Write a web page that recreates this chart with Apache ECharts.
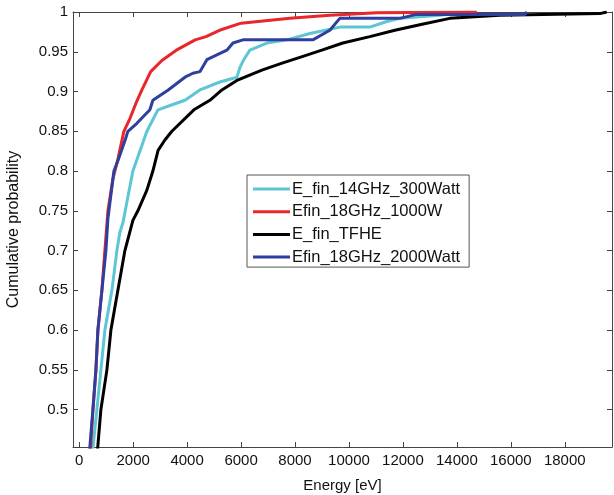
<!DOCTYPE html>
<html>
<head>
<meta charset="utf-8">
<script src="https://cdn.jsdelivr.net/npm/echarts@6/dist/echarts.min.js"></script>
<style>
html,body{margin:0;padding:0;background:#fff;}
#c{width:614px;height:495px;}
</style>
</head>
<body>
<div id="c"></div>
<script>
// Series names (legend order)
var seriesNames = ['E_fin_14GHz_300Watt', 'Efin_18GHz_1000W', 'E_fin_TFHE', 'Efin_18GHz_2000Watt'];

// Energy [eV] / cumulative probability pairs
var cyanE = [470, 656, 804, 952, 1212, 1397, 1508, 1620, 1990, 2509, 2917, 3500, 3920, 4474, 5215, 5845, 5956, 6100, 6326, 6956, 7697, 8549, 9661, 10773, 11403, 11885, 13366, 14479];
var cyanP = [0.44, 0.50, 0.55, 0.60, 0.65, 0.70, 0.723, 0.735, 0.80, 0.85, 0.877, 0.884, 0.889, 0.902, 0.912, 0.918, 0.93, 0.94, 0.952, 0.961, 0.965, 0.973, 0.981, 0.981, 0.988, 0.992, 0.996, 1.0];

var redE = [400, 510, 620, 693, 841, 952, 1064, 1250, 1323, 1434, 1656, 1880, 2100, 2324, 2650, 3065, 3600, 4300, 4700, 5200, 6000, 7810, 9292, 11034, 14740];
var redP = [0.44, 0.50, 0.55, 0.60, 0.65, 0.70, 0.75, 0.79, 0.80, 0.815, 0.85, 0.866, 0.885, 0.902, 0.925, 0.939, 0.952, 0.965, 0.969, 0.977, 0.986, 0.992, 0.996, 0.999, 1.0];

var blackE = [656, 804, 1027, 1175, 1434, 1694, 1990, 2175, 2509, 2731, 2924, 3176, 3435, 4251, 4844, 5289, 5845, 6771, 7549, 8180, 8994, 9772, 10773, 11700, 12626, 13738, 15591, 19297, 19556];
var blackP = [0.44, 0.50, 0.55, 0.60, 0.65, 0.70, 0.738, 0.75, 0.776, 0.80, 0.826, 0.839, 0.85, 0.877, 0.889, 0.902, 0.914, 0.927, 0.936, 0.943, 0.952, 0.961, 0.969, 0.977, 0.984, 0.992, 0.996, 0.998, 1.0];

var blueE = [363, 508, 619, 693, 841, 990, 1064, 1286, 1434, 1694, 1805, 2138, 2620, 2731, 3300, 3920, 4214, 4474, 4733, 5474, 5700, 6067, 8660, 9290, 9660, 11885, 12500, 16517, 16600];
var blueP = [0.44, 0.50, 0.55, 0.60, 0.65, 0.70, 0.74, 0.80, 0.813, 0.838, 0.85, 0.86, 0.877, 0.889, 0.902, 0.918, 0.923, 0.925, 0.94, 0.952, 0.961, 0.965, 0.965, 0.977, 0.992, 0.992, 0.997, 0.997, 1.0];

// Tick labels
var xTicks = [0, 2000, 4000, 6000, 8000, 10000, 12000, 14000, 16000, 18000];
var yTicks = [0.5, 0.55, 0.6, 0.65, 0.7, 0.75, 0.8, 0.85, 0.9, 0.95, 1];

function pairs(e, p) { return e.map(function (v, i) { return [v, p[i]]; }); }

var colors = ['#5cc6d6', '#e8262b', '#000000', '#2f3f9e'];
var dataSets = [pairs(cyanE, cyanP), pairs(redE, redP), pairs(blackE, blackP), pairs(blueE, blueP)];

var XMIN = -230, XMAX = 19750, YMIN = 0.453, YMAX = 1;
var axisColor = '#444';
var font = 'Liberation Sans, Arial, sans-serif';

var chart = echarts.init(document.getElementById('c'), null, {renderer: 'canvas'});
chart.setOption({
  animation: false,
  backgroundColor: '#fff',
  grid: {left: 73, right: 2, top: 12, bottom: 48, containLabel: false, outerBoundsMode: 'none'},
  legend: {
    orient: 'vertical',
    left: 247, top: 175,
    backgroundColor: '#fff',
    borderColor: '#555', borderWidth: 1,
    padding: [5, 9, 1, 6],
    itemGap: 4.7,
    itemWidth: 37, itemHeight: 3,
    icon: 'rect',
    textStyle: {fontSize: 16.5, color: '#111', fontFamily: font, lineHeight: 18, padding: [0, 0, 0, -3]},
    data: seriesNames
  },
  xAxis: [{
    type: 'value', min: XMIN, max: XMAX, position: 'bottom',
    name: 'Energy [eV]', nameLocation: 'middle', nameGap: 31,
    nameTextStyle: {fontSize: 15, color: '#111', fontFamily: font},
    axisLine: {show: true, onZero: false, lineStyle: {color: axisColor, width: 1}},
    axisTick: {show: true, inside: true, length: 5, customValues: xTicks, lineStyle: {color: axisColor}},
    axisLabel: {show: true, customValues: xTicks, margin: 6, fontSize: 15, color: '#111', fontFamily: font,
      formatter: function (v) { return String(Math.round(v)); }},
    splitLine: {show: false}
  }, {
    type: 'value', min: XMIN, max: XMAX, position: 'top',
    axisLine: {show: true, onZero: false, lineStyle: {color: axisColor, width: 1}},
    axisTick: {show: true, inside: true, length: 5, customValues: xTicks, lineStyle: {color: axisColor}},
    axisLabel: {show: false},
    splitLine: {show: false}
  }],
  yAxis: [{
    type: 'value', min: YMIN, max: YMAX, position: 'left',
    name: 'Cumulative probability', nameLocation: 'middle', nameGap: 51, nameRotate: 90,
    nameTextStyle: {fontSize: 16, color: '#111', fontFamily: font},
    axisLine: {show: true, onZero: false, lineStyle: {color: axisColor, width: 1}},
    axisTick: {show: true, inside: true, length: 5, customValues: yTicks, lineStyle: {color: axisColor}},
    axisLabel: {show: true, customValues: yTicks, margin: 5, fontSize: 15, color: '#111', fontFamily: font,
      formatter: function (v) { return String(parseFloat(v.toFixed(2))); }},
    splitLine: {show: false}
  }, {
    type: 'value', min: YMIN, max: YMAX, position: 'right',
    axisLine: {show: true, onZero: false, lineStyle: {color: axisColor, width: 1}},
    axisTick: {show: true, inside: true, length: 5, customValues: yTicks, lineStyle: {color: axisColor}},
    axisLabel: {show: false},
    splitLine: {show: false}
  }],
  series: seriesNames.map(function (n, i) {
    return {
      name: n, type: 'line', data: dataSets[i],
      xAxisIndex: 0, yAxisIndex: 0,
      showSymbol: false, symbol: 'none', clip: true,
      color: colors[i],
      lineStyle: {color: colors[i], width: 3},
      z: 2 + i
    };
  })
});
</script>
</body>
</html>
